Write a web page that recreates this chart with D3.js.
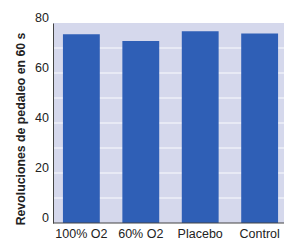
<!DOCTYPE html>
<html>
<head>
<meta charset="utf-8">
<script src="https://cdn.jsdelivr.net/npm/d3@7"></script>
<style>
  body { margin: 0; background: #fff; }
  svg { display: block; font-family: "Liberation Sans", Arial, sans-serif; }
</style>
</head>
<body>
<div id="chart"></div>
<script>
const width = 288
const height = 245
const margin = {top: 23, right: 4, bottom: 22, left: 53}

const categories = ['100% O2', '60% O2', 'Placebo', 'Control']
const values = [75.5, 72.8, 76.7, 75.8]
const yTicks = [0, 20, 40, 60, 80]
const gridLines = [10, 20, 30, 40, 50, 60, 70]

let svg = d3.select('#chart')
            .append('svg')
            .attr('width', width)
            .attr('height', height)

let yScale = d3.scaleLinear()
            .domain([0, 80])
            .range([height - margin.bottom, margin.top])

let xScale = d3.scaleBand()
            .domain(categories)
            .range([margin.left + 4, width - margin.right])
            .paddingInner(0.38)
            .paddingOuter(0.1)

// plot background
svg.append('rect')
    .attr('x', margin.left)
    .attr('y', margin.top)
    .attr('width', width - margin.right - margin.left)
    .attr('height', height - margin.bottom - margin.top)
    .attr('fill', '#d5d8ec')

svg.selectAll('.grid')
    .data(gridLines)
    .enter()
    .append('line')
    .attr('class', 'grid')
    .attr('x1', margin.left)
    .attr('x2', width - margin.right)
    .attr('y1', d => yScale(d))
    .attr('y2', d => yScale(d))
    .attr('stroke', '#eef0f8')
    .attr('stroke-width', 1.5)

svg.selectAll('.bar')
    .data(values)
    .enter()
    .append('rect')
    .attr('class', 'bar')
    .attr('x', (d, i) => xScale(categories[i]))
    .attr('y', d => yScale(d))
    .attr('width', xScale.bandwidth())
    .attr('height', d => yScale(0) - yScale(d))
    .attr('fill', '#2f5fb6')

// axes
let yAxis = svg.append('g')
    .attr('transform', 'translate(' + margin.left + ',0)')
    .call(d3.axisLeft(yScale).tickValues(yTicks).tickSize(0).tickPadding(4))
yAxis.select('.domain').attr('stroke', '#444')
yAxis.selectAll('text')
    .style('font-size', '12.5px')
    .attr('fill', '#222')
    .attr('dy', '-0.1em')

let xAxis = svg.append('g')
    .attr('transform', 'translate(0,' + yScale(0) + ')')
    .call(d3.axisBottom(xScale).tickSize(0).tickPadding(6))
xAxis.select('.domain')
    .attr('d', 'M' + margin.left + ',0H' + (width - margin.right))
    .attr('stroke', '#444')
xAxis.selectAll('text')
    .style('font-size', '12.5px')
    .attr('fill', '#222')

svg.append('text')
    .attr('transform', 'rotate(-90)')
    .attr('x', -(margin.top + 6 + (height - margin.bottom - margin.top) / 2))
    .attr('y', 25)
    .attr('text-anchor', 'middle')
    .style('font-size', '12.3px')
    .style('font-weight', 'bold')
    .attr('fill', '#222')
    .text('Revoluciones de pedaleo en 60 s')
</script>
</body>
</html>
